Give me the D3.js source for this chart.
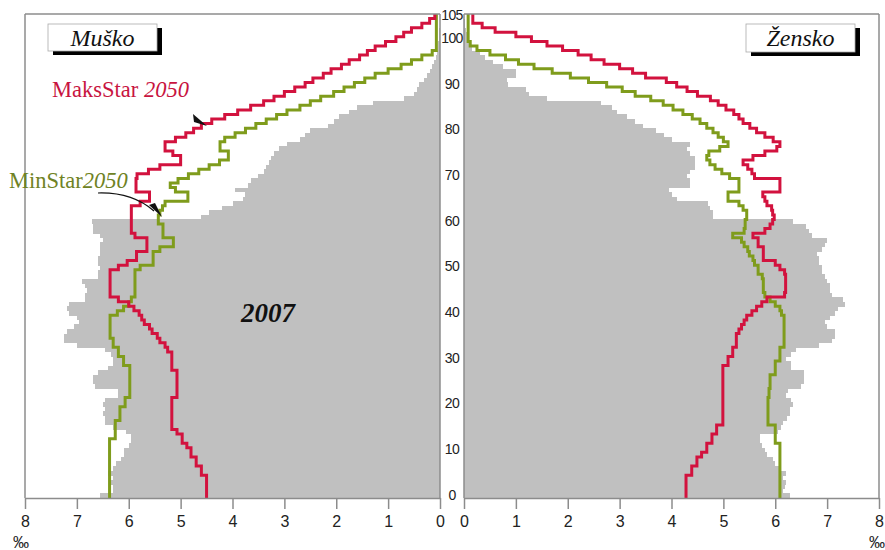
<!DOCTYPE html>
<html>
<head>
<meta charset="utf-8">
<script src="https://cdn.jsdelivr.net/npm/d3@7"></script>
<style>
  body { margin: 0; background: #fff; }
  svg { display: block; }
</style>
</head>
<body>
<div id="chart"></div>
<script>
// ages 0..105, one bar / one step per year
const ages = d3.range(0, 106);
const ageTicks = [0, 10, 20, 30, 40, 50, 60, 70, 80, 90, 100, 105];
const pctTicks = [0, 1, 2, 3, 4, 5, 6, 7, 8];

// 2007 population, per mille (grey bars)
const maleGray2007 = [
  6.55, 6.3, 6.3, 6.35, 6.3, 6.4, 6.3, 6.25, 6.15, 6.1,
  6.1, 6.0, 5.95, 5.95, 6.05, 6.3, 6.45, 6.45, 6.5, 6.45,
  6.5, 6.45, 6.2, 6.2, 6.65, 6.68, 6.68, 6.6, 6.4, 6.3,
  6.3, 6.35, 6.45, 7.0, 7.25, 7.25, 7.2, 7.05, 6.95, 7.0,
  7.15, 7.2, 7.15, 6.85, 6.85, 6.8, 6.85, 6.9, 6.6, 6.6,
  6.55, 6.6, 6.6, 6.55, 6.55, 6.55, 6.5, 6.55, 6.68, 6.68,
  6.7, 4.6, 4.45, 4.2, 4.0, 3.8, 3.75, 3.95, 3.7, 3.65,
  3.5, 3.4, 3.35, 3.3, 3.25, 3.2, 3.1, 2.95, 2.7, 2.6,
  2.5, 2.15, 2.05, 1.95, 1.75, 1.6, 1.3, 0.7, 0.5, 0.45,
  0.4, 0.3, 0.25, 0.2, 0.15, 0.12, 0.08, 0.06, 0.04, 0.03,
  0.02, 0.01, 0.01, 0, 0, 0
];
const femaleGray2007 = [
  6.28, 6.15, 6.18, 6.2, 6.15, 6.2, 6.1, 6.0, 5.95, 5.85,
  5.8, 5.75, 5.7, 5.7, 6.05, 6.12, 6.15, 6.22, 6.28, 6.28,
  6.35, 6.3, 6.2, 6.25, 6.5, 6.55, 6.55, 6.55, 6.3, 6.3,
  6.2, 6.3, 6.4, 6.85, 7.1, 7.15, 7.15, 7.0, 6.95, 7.05,
  7.15, 7.2, 7.35, 7.3, 7.1, 7.05, 7.05, 7.0, 6.95, 6.9,
  6.9, 6.85, 6.85, 6.8, 6.9, 6.95, 7.0, 6.7, 6.65, 6.6,
  6.35, 4.8, 4.8, 4.75, 4.7, 4.1, 4.0, 3.95, 4.35, 4.35,
  4.3, 4.35, 4.45, 4.45, 4.45, 4.35, 4.3, 4.35, 4.0, 3.85,
  3.7, 3.45, 3.3, 3.15, 2.95, 2.85, 2.65, 1.6, 1.25, 1.2,
  0.85, 0.83, 1.0, 1.0, 0.75, 0.55, 0.4, 0.3, 0.15, 0.12,
  0.08, 0.05, 0.03, 0.02, 0.01, 0
];

// 2050 projections (step lines)
const maleMax2050 = [
  4.5, 4.5, 4.5, 4.5, 4.5, 4.6, 4.6, 4.7, 4.7, 4.8,
  4.8, 4.88, 4.97, 4.97, 5.07, 5.17, 5.17, 5.17, 5.17, 5.17,
  5.17, 5.17, 5.07, 5.07, 5.07, 5.07, 5.07, 5.07, 5.17, 5.17,
  5.17, 5.17, 5.25, 5.3, 5.4, 5.45, 5.55, 5.6, 5.7, 5.75,
  5.8, 5.9, 6.0, 6.2, 6.36, 6.36, 6.36, 6.36, 6.36, 6.36,
  6.2, 6.03, 5.85, 5.85, 5.65, 5.65, 5.65, 5.88, 5.95, 5.95,
  5.95, 5.95, 5.95, 5.95, 5.78, 5.6, 5.6, 5.86, 5.86, 5.86,
  5.84, 5.62, 5.4, 5.0, 5.0, 5.15, 5.3, 5.3, 5.1, 4.9,
  4.75, 4.6, 4.4, 4.15, 3.9, 3.65, 3.4, 3.2, 3.0, 2.8,
  2.6, 2.45, 2.25, 2.1, 1.9, 1.75, 1.55, 1.4, 1.25, 1.05,
  0.85, 0.7, 0.55, 0.35, 0.2, 0.1
];
const maleMin2050 = [
  6.37, 6.37, 6.37, 6.37, 6.37, 6.37, 6.37, 6.37, 6.37, 6.37,
  6.37, 6.37, 6.37, 6.26, 6.26, 6.26, 6.26, 6.17, 6.17, 6.17,
  6.07, 6.07, 5.98, 5.98, 5.98, 5.98, 5.98, 5.98, 5.98, 6.1,
  6.1, 6.2, 6.2, 6.3, 6.3, 6.36, 6.36, 6.36, 6.36, 6.36,
  6.22, 6.1, 6.0, 5.95, 5.88, 5.88, 5.88, 5.88, 5.88, 5.88,
  5.78, 5.53, 5.53, 5.53, 5.4, 5.14, 5.14, 5.34, 5.34, 5.34,
  5.43, 5.43, 5.4, 5.35, 5.3, 4.86, 4.86, 5.1, 5.2, 5.05,
  4.85, 4.65, 4.45, 4.25, 4.08, 4.08, 4.24, 4.24, 4.15, 3.95,
  3.75, 3.55, 3.35, 3.15, 2.95, 2.7, 2.5, 2.3, 2.05, 1.85,
  1.65, 1.45, 1.25, 1.0, 0.75, 0.55, 0.35, 0.15, 0.07, 0.07,
  0.07, 0.07, 0.07, 0.07, 0.07, 0.07
];
const femaleMax2050 = [
  4.28, 4.28, 4.28, 4.28, 4.28, 4.39, 4.39, 4.49, 4.49, 4.58,
  4.68, 4.68, 4.78, 4.78, 4.87, 4.87, 4.99, 4.99, 4.99, 4.99,
  4.99, 4.99, 4.99, 4.99, 4.99, 4.99, 4.99, 4.99, 4.99, 5.09,
  5.09, 5.18, 5.18, 5.25, 5.25, 5.25, 5.3, 5.35, 5.4, 5.45,
  5.55, 5.64, 5.74, 5.84, 6.18, 6.2, 6.2, 6.2, 6.2, 6.18,
  6.09, 6.0, 5.77, 5.77, 5.77, 5.67, 5.67, 5.57, 5.8, 5.9,
  5.95, 5.98, 5.95, 5.93, 5.84, 5.8, 5.76, 6.09, 6.09, 6.09,
  5.6, 5.55, 5.47, 5.38, 5.57, 5.8, 6.03, 6.09, 5.96, 5.8,
  5.64, 5.51, 5.38, 5.3, 5.2, 5.05, 4.9, 4.75, 4.5, 4.3,
  4.1, 3.9, 3.5, 3.25, 3.0, 2.7, 2.45, 2.2, 1.9, 1.6,
  1.3, 1.0, 0.6, 0.35, 0.17, 0.17
];
const femaleMin2050 = [
  6.09, 6.09, 6.09, 6.09, 6.09, 6.09, 6.09, 6.09, 6.09, 6.09,
  6.09, 6.09, 6.0, 6.0, 6.0, 6.0, 5.86, 5.86, 5.86, 5.86,
  5.86, 5.86, 5.88, 5.88, 5.9, 5.9, 5.9, 6.0, 6.0, 6.0,
  6.09, 6.09, 6.09, 6.17, 6.17, 6.17, 6.17, 6.17, 6.17, 6.17,
  6.12, 6.09, 6.0, 5.9, 5.8, 5.77, 5.77, 5.77, 5.75, 5.67,
  5.67, 5.6, 5.57, 5.5, 5.47, 5.4, 5.35, 5.18, 5.4, 5.42,
  5.42, 5.45, 5.45, 5.38, 5.3, 5.09, 5.09, 5.3, 5.3, 5.3,
  5.12, 4.97, 4.84, 4.74, 4.68, 4.72, 4.93, 5.09, 5.0, 4.9,
  4.8, 4.68, 4.55, 4.4, 4.22, 4.03, 3.84, 3.6, 3.3, 3.05,
  2.75, 2.4, 2.05, 1.7, 1.35, 1.05, 0.8, 0.5, 0.25, 0.12,
  0.08, 0.08, 0.08, 0.08, 0.08, 0.08
];

const width = 885, height = 550;
const frame = "#8c8c8c", grey = "#c0c0c0";
const red = "#d2123e", green = "#7f9c1c";

const svg = d3.select("#chart").append("svg")
  .attr("width", width).attr("height", height);

//left half runs 8 -> 0, right half 0 -> 8
const xL = d3.scaleLinear().domain([0, 8]).range([440, 25]);
const xR = d3.scaleLinear().domain([0, 8]).range([464, 879]);
const y = d3.scaleLinear().domain([0, 106]).range([498, 14]);

//grey bars of 2007
const drawBars = (vals, x, cls) => {
  svg.append("g")
    .attr("shape-rendering", "crispEdges")
    .selectAll("rect." + cls)
    .data(ages)
    .enter()
    .append("rect")
      .attr("class", cls)
      .attr("x", (d) => Math.min(x(0), x(vals[d])))
      .attr("width", (d) => Math.abs(x(vals[d]) - x(0)))
      .attr("y", (d) => y(d + 1))
      .attr("height", (d) => y(d) - y(d + 1) + 0.4)
      .attr("fill", grey);
};
drawBars(maleGray2007, xL, "m");
drawBars(femaleGray2007, xR, "f");

//staircase outline: vertical piece for every year
const stairs = (vals, x) => {
  const pts = [];
  vals.forEach((v, i) => {
    pts.push([x(v), y(i)]);
    pts.push([x(v), y(i + 1)]);
  });
  return pts;
};
const line = d3.line();
const drawStep = (vals, x, color) => {
  svg.append("path")
    .attr("d", line(stairs(vals, x)))
    .attr("fill", "none")
    .attr("stroke", color)
    .attr("stroke-width", 3)
    .attr("stroke-linejoin", "miter");
};
drawStep(maleMin2050, xL, green);
drawStep(femaleMin2050, xR, green);
drawStep(maleMax2050, xL, red);
drawStep(femaleMax2050, xR, red);

//frame
const fr = svg.append("g").attr("stroke", frame).attr("stroke-width", 1.5);
fr.append("line").attr("x1", xL(8)).attr("x2", xL(0)).attr("y1", y(106)).attr("y2", y(106));
fr.append("line").attr("x1", xR(0)).attr("x2", xR(8)).attr("y1", y(106)).attr("y2", y(106));
fr.append("line").attr("x1", xL(8)).attr("x2", xL(8)).attr("y1", y(106)).attr("y2", y(0));
fr.append("line").attr("x1", xR(8)).attr("x2", xR(8)).attr("y1", y(106)).attr("y2", y(0));
fr.append("line").attr("x1", xL(0)).attr("x2", xL(0)).attr("y1", y(106)).attr("y2", y(0));
fr.append("line").attr("x1", xR(0)).attr("x2", xR(0)).attr("y1", y(106)).attr("y2", y(0));

//bottom axes
const styleAxis = (g) => {
  g.selectAll("path, line").attr("stroke", frame).attr("stroke-width", 1.5);
  g.selectAll("text")
    .attr("fill", "#222")
    .style("font-family", "'Liberation Sans', Arial, sans-serif")
    .style("font-size", "16px");
};
svg.append("g")
  .attr("transform", `translate(0, ${y(0)})`)
  .call(d3.axisBottom(xL).tickValues(pctTicks).tickSize(11).tickSizeOuter(0).tickPadding(7))
  .call(styleAxis);
svg.append("g")
  .attr("transform", `translate(0, ${y(0)})`)
  .call(d3.axisBottom(xR).tickValues(pctTicks).tickSize(11).tickSizeOuter(0).tickPadding(7))
  .call(styleAxis);

svg.append("text").attr("x", 13).attr("y", 548).text("‰")
  .style("font-family", "'Liberation Sans', Arial, sans-serif").style("font-size", "16px").attr("fill", "#222");
svg.append("text").attr("x", 869).attr("y", 548).text("‰")
  .style("font-family", "'Liberation Sans', Arial, sans-serif").style("font-size", "16px").attr("fill", "#222");

//age labels in the middle strip
svg.append("g")
  .selectAll("text")
  .data(ageTicks)
  .enter()
  .append("text")
    .attr("x", (xL(0) + xR(0)) / 2)
    .attr("y", (d) => y(d) - 2)
    .attr("text-anchor", "middle")
    .attr("dominant-baseline", "middle")
    .attr("fill", "#222")
    .style("font-family", "'Liberation Sans', Arial, sans-serif")
    .style("font-size", "14px")
    .style("letter-spacing", "-0.6px")
    .text((d) => d);

//sex boxes with shadow
const sexBox = (x0, y0, w, h, label) => {
  svg.append("rect").attr("x", x0 + 5).attr("y", y0 + 4).attr("width", w).attr("height", h).attr("fill", "#000");
  svg.append("rect").attr("x", x0).attr("y", y0).attr("width", w).attr("height", h)
    .attr("fill", "#fff").attr("stroke", "#aaa").attr("stroke-width", 0.8);
  svg.append("text").attr("x", x0 + w / 2).attr("y", y0 + 22).attr("text-anchor", "middle")
    .style("font-family", "'Liberation Serif', 'Times New Roman', serif")
    .style("font-style", "italic").style("font-size", "24px").attr("fill", "#111")
    .text(label);
};
sexBox(48, 24, 109, 27, "Muško");
sexBox(746, 24, 109, 28, "Žensko");

//scenario labels
const serif = "'Liberation Serif', 'Times New Roman', serif";
const maks = svg.append("text").attr("x", 52).attr("y", 97)
  .style("font-family", serif).style("font-size", "22.5px").attr("fill", "#c8143f");
maks.append("tspan").text("MaksStar ");
maks.append("tspan").style("font-style", "italic").text("2050");

const minl = svg.append("text").attr("x", 9).attr("y", 188)
  .style("font-family", serif).style("font-size", "22.5px").attr("fill", "#6f8224");
minl.append("tspan").text("MinStar");
minl.append("tspan").style("font-style", "italic").text("2050");

svg.append("text").attr("x", 268).attr("y", 322).attr("text-anchor", "middle")
  .style("font-family", serif).style("font-style", "italic").style("font-weight", "bold")
  .style("font-size", "27px").attr("fill", "#111")
  .text("2007");

//pointer arrows
svg.append("path")
  .attr("d", "M193,114 L207,126 L194,122 Z")
  .attr("fill", "#111");
svg.append("path")
  .attr("d", "M98,193 Q132,192 154,211")
  .attr("fill", "none").attr("stroke", "#111").attr("stroke-width", 1.2);
svg.append("path")
  .attr("d", "M149,205 L162,217 L155,203 Z")
  .attr("fill", "#111");
</script>
</body>
</html>
